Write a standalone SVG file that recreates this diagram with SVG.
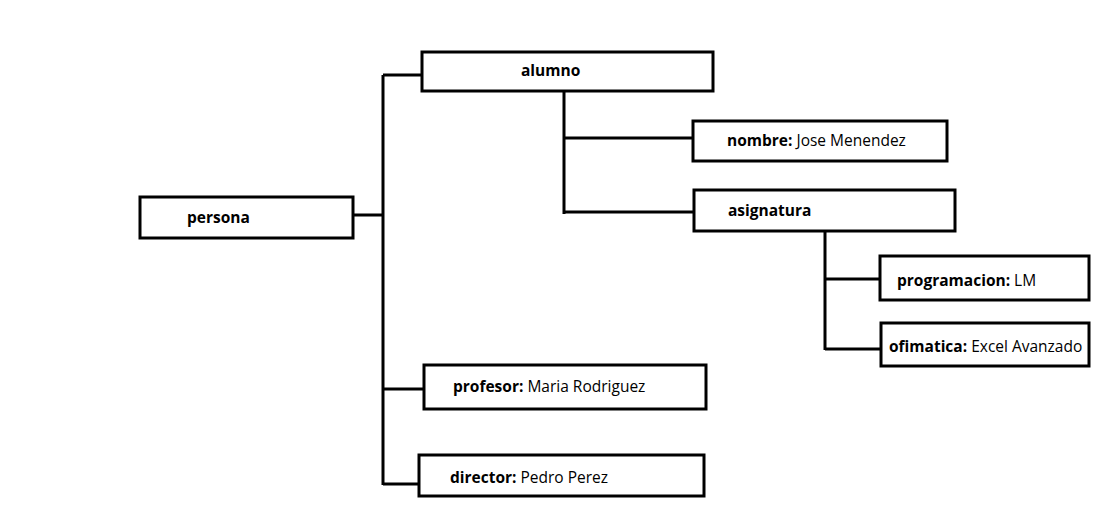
<svg xmlns="http://www.w3.org/2000/svg" width="1113" height="513" viewBox="0 0 1113 513">
<style>
.box{fill:#fff;stroke:#000;stroke-width:3}
.ln{fill:none;stroke:#000;stroke-width:3}
text{font-family:"Open Sans","Liberation Sans",sans-serif;font-size:15.5px;fill:#000}
.b{font-weight:bold}
</style>
<rect width="1113" height="513" fill="#fff"/>
<g id="connectors">
<path class="ln" d="M353 215H383M383 75V485M383 75H422M383 389H424M383 484H419"/>
<path class="ln" d="M564 91V214M564 138H693M564 212H694"/>
<path class="ln" d="M825 231V350M825 279H880M825 349H881"/>
</g>
<g id="persona"><rect class="box" x="140" y="197" width="213" height="41"/><text x="187" y="223" class="b">persona</text></g>
<g id="alumno"><rect class="box" x="422" y="52" width="291" height="39"/><text x="521" y="76" class="b">alumno</text></g>
<g id="nombre"><rect class="box" x="693" y="121" width="254" height="40"/><text x="727" y="146"><tspan class="b">nombre:</tspan> Jose Menendez</text></g>
<g id="asignatura"><rect class="box" x="694" y="190" width="261" height="41"/><text x="728" y="216" class="b">asignatura</text></g>
<g id="programacion"><rect class="box" x="880" y="256" width="209" height="44"/><text x="897" y="286"><tspan class="b">programacion:</tspan> LM</text></g>
<g id="ofimatica"><rect class="box" x="881" y="323" width="208" height="43"/><text x="889" y="352"><tspan class="b">ofimatica:</tspan> Excel Avanzado</text></g>
<g id="profesor"><rect class="box" x="424" y="365" width="282" height="44"/><text x="453" y="392"><tspan class="b">profesor:</tspan> Maria Rodriguez</text></g>
<g id="director"><rect class="box" x="419" y="455" width="285" height="41"/><text x="450" y="483"><tspan class="b">director:</tspan> Pedro Perez</text></g>
</svg>
